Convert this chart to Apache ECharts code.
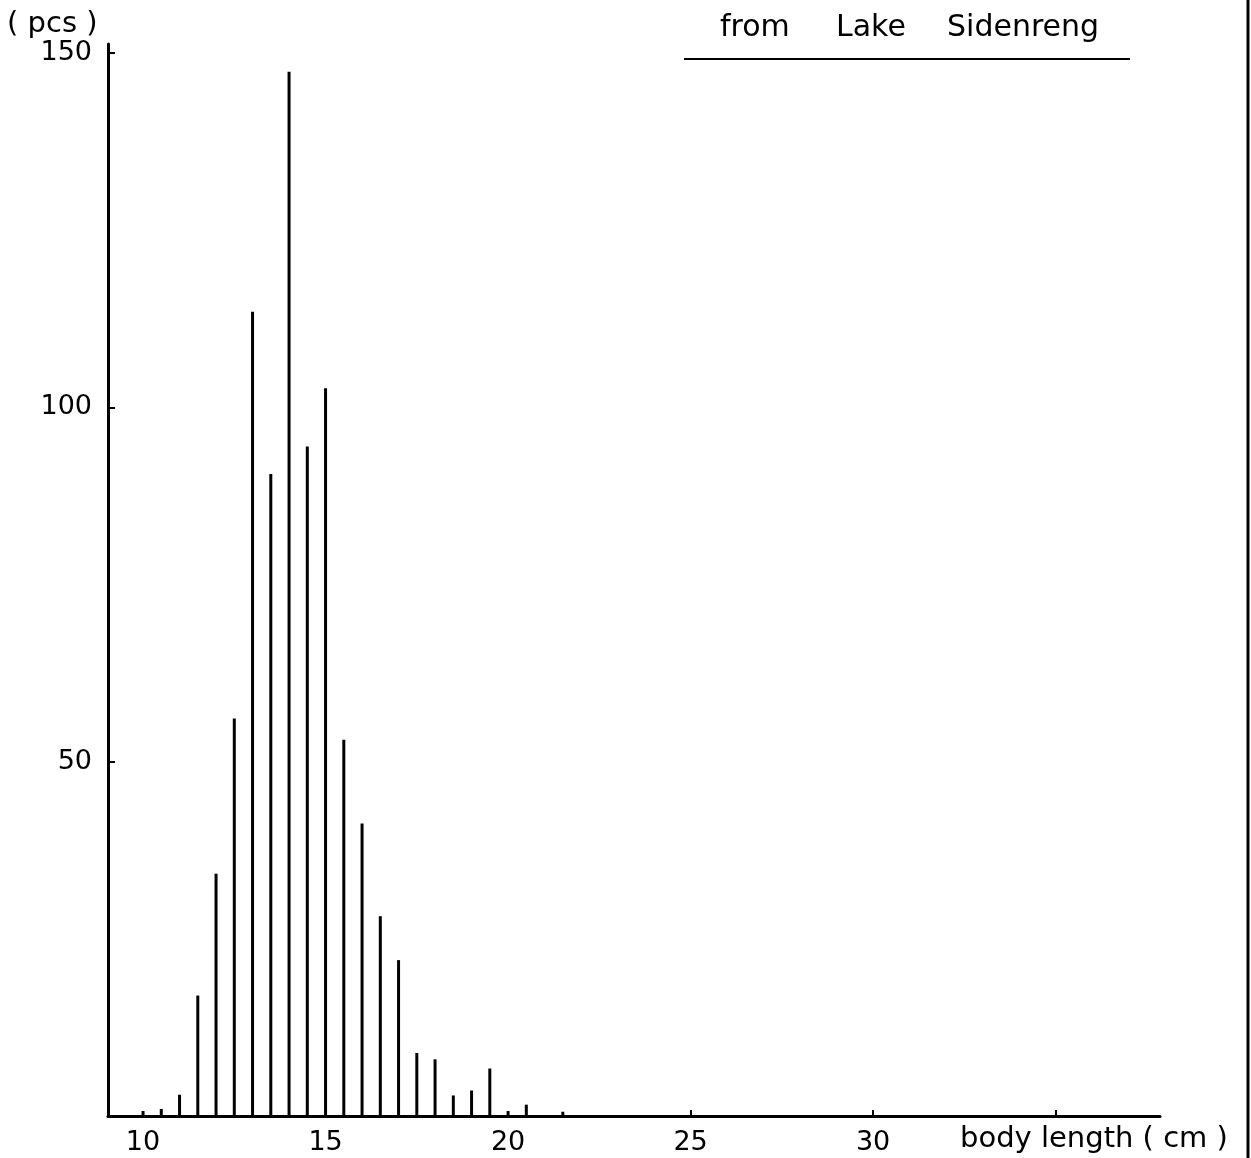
<!DOCTYPE html>
<html>
<head>
<meta charset="utf-8">
<title>from Lake Sidenreng</title>
<script src="https://cdn.jsdelivr.net/npm/echarts@6/dist/echarts.min.js"></script>
<style>
  html, body { margin: 0; padding: 0; background: #fff; }
  #chart { width: 1251px; height: 1158px; }
</style>
</head>
<body>
<div id="chart"></div>
<script>
// body length classes (cm) and number of fish (pcs)
const lengths = [10, 10.5, 11, 11.5, 12, 12.5, 13, 13.5, 14, 14.5, 15, 15.5,
  16, 16.5, 17, 17.5, 18, 18.5, 19, 19.5, 20, 20.5, 21.5]
const counts = [0.7, 1, 3, 17, 34.2, 56.1, 113.5, 90.6, 147.4, 94.5, 102.7, 53.1,
  41.3, 28.2, 22, 8.9, 8, 2.9, 3.6, 6.7, 0.7, 1.6, 0.6]
const xLabels = [10, 15, 20, 25, 30]
const xTicks = [25, 30, 35]
const yLabels = [50, 100, 150]

const font = 'DejaVu Sans'
const chart = echarts.init(document.getElementById('chart'))

chart.setOption({
  animation: false,
  backgroundColor: '#fff',
  grid: { left: 108, right: 91, top: 44, bottom: 42 },
  xAxis: {
    type: 'value',
    min: 9.04,
    max: 37.86,
    axisLine: { lineStyle: { color: '#000', width: 3 } },
    axisTick: { customValues: xTicks, inside: true, length: 6, lineStyle: { color: '#000', width: 2 } },
    axisLabel: { customValues: xLabels, color: '#000', fontFamily: font, fontSize: 27, margin: 13 },
    splitLine: { show: false }
  },
  yAxis: {
    type: 'value',
    min: 0,
    max: 151.3,
    axisLine: { show: true, lineStyle: { color: '#000', width: 3 } },
    axisTick: { show: true, customValues: yLabels, inside: true, length: 7, lineStyle: { color: '#000', width: 2 } },
    axisLabel: { customValues: yLabels, color: '#000', fontFamily: font, fontSize: 27, margin: 16 },
    splitLine: { show: false }
  },
  series: [{
    type: 'bar',
    barWidth: 3,
    itemStyle: { color: '#000' },
    data: lengths.map((x, i) => [x, counts[i]])
  }],
  graphic: [
    { type: 'text', left: 7, top: 10, style: { text: '( pcs )', fill: '#000', font: '29px "DejaVu Sans"' } },
    { type: 'text', left: 720, top: 13, style: { text: 'from', fill: '#000', font: '30px "DejaVu Sans"' } },
    { type: 'text', left: 836, top: 13, style: { text: 'Lake', fill: '#000', font: '30px "DejaVu Sans"' } },
    { type: 'text', left: 947, top: 13, style: { text: 'Sidenreng', fill: '#000', font: '30px "DejaVu Sans"' } },
    { type: 'line', shape: { x1: 684, y1: 59, x2: 1130, y2: 59 }, style: { stroke: '#000', lineWidth: 2 } },
    { type: 'text', left: 960, top: 1125, style: { text: 'body length ( cm )', fill: '#000', font: '29px "DejaVu Sans"' } },
    { type: 'line', shape: { x1: 1248, y1: 0, x2: 1248, y2: 1158 }, style: { stroke: '#000', lineWidth: 3 } }
  ]
})

window.addEventListener('resize', () => chart.resize())
</script>
</body>
</html>
